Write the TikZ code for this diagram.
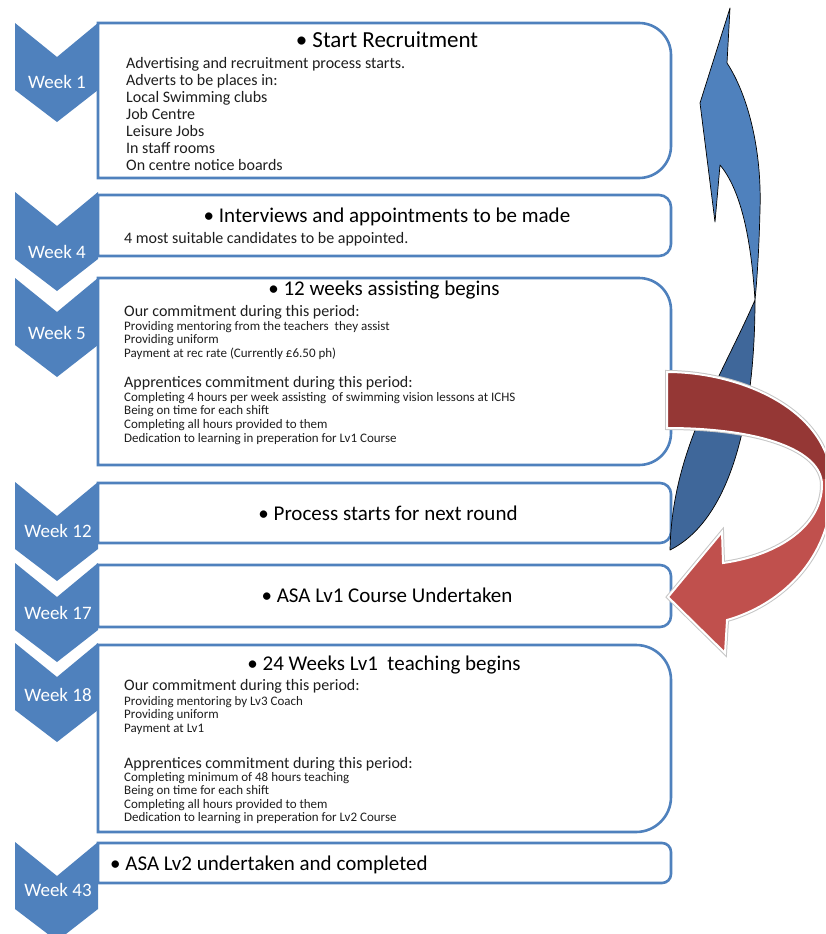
\documentclass[tikz,border=0pt]{standalone}
\usepackage{fontspec}
\setmainfont{Carlito}
\definecolor{accblue}{HTML}{4F81BD}
\definecolor{darkblue}{HTML}{3F679A}
\definecolor{darkred}{HTML}{953735}
\definecolor{lightred}{HTML}{C0504D}
\definecolor{bodytext}{HTML}{1E1E1E}
\tikzset{
  chev/.style={fill=accblue, draw=none},
  boxline/.style={draw=accblue, line width=2.6pt},
  weeklbl/.style={text=white, font=\fontsize{19}{19}\selectfont, inner sep=0pt, text height=13pt, text depth=4pt, yshift=-2pt},
  ttl/.style={font=\fontsize{21}{21}\selectfont, inner sep=0pt, text=black, text height=14.7pt, text depth=4.2pt, yshift=-2pt},
  bigttl/.style={ttl, font=\fontsize{23}{23}\selectfont, text height=16.1pt, text depth=4.6pt},
  bodyln/.style={font=\fontsize{16}{16}\selectfont, inner sep=0pt, anchor=west, text=bodytext, text height=11.2pt, text depth=3.2pt, yshift=-2pt},
  smallln/.style={font=\fontsize{13}{13}\selectfont, inner sep=0pt, anchor=west, text=bodytext, text height=9.1pt, text depth=2.6pt, yshift=-2pt},
}
\newcommand\weekchev[1]{\fill[chev] (15,#1) -- (57,#1+34) -- (98,#1) -- (98,#1+67) -- (57,#1+99) -- (15,#1+67) -- cycle;}
\newcommand\weekbox[3]{\draw[boxline] (98,#1) -- ({671-#3},#1) arc[start angle=90,end angle=0,radius=#3pt] -- (671,{#2-#3}) arc[start angle=0,end angle=-90,radius=#3pt] -- (98,#2) -- cycle;}
\begin{document}
\begin{tikzpicture}[x=1pt,y=-1pt]
\useasboundingbox (0,0) rectangle (825,934);
\clip (0,0) rectangle (825,934);
\fill[white] (0,0) rectangle (825,934);

% chevrons
\weekchev{23}
\weekchev{192}
\weekchev{278}
\weekchev{482}
\weekchev{563}
\weekchev{643}
\weekchev{842}

% boxes
\weekbox{23}{178}{32}
\weekbox{195}{256}{12}
\weekbox{278}{465}{32}
\weekbox{483}{543}{11}
\weekbox{565}{627}{11}
\weekbox{645}{832}{35}
\weekbox{843}{883}{9}

% week labels
\node[weeklbl] (w1) at (57,82) {Week 1};
\node[weeklbl] (w4) at (57,252) {Week 4};
\node[weeklbl] (w5) at (57,333) {Week 5};
\node[weeklbl] (w12) at (58,531) {Week 12};
\node[weeklbl] (w17) at (58,613) {Week 17};
\node[weeklbl] (w18) at (58,695) {Week 18};
\node[weeklbl] (w43) at (58,890) {Week 43};

% titles
\node[bigttl] (t1) at (387,40) {• Start Recruitment};
\node[ttl] (t2) at (387,215) {• Interviews and appointments to be made};
\node[ttl] (t3) at (384,288) {• 12 weeks assisting begins};
\node[ttl] (t4) at (388,513) {• Process starts for next round};
\node[ttl] (t5) at (387,595) {• ASA Lv1 Course Undertaken};
\node[ttl] (t6) at (384,663) {• 24 Weeks Lv1~ teaching begins};
\node[ttl, anchor=west] (t7) at (110,863) {• ASA Lv2 undertaken and completed};

% box 1 body
\foreach \t [count=\i from 0] in {Advertising and recruitment process starts., Adverts to be places in:, Local Swimming clubs, Job Centre, Leisure Jobs, In staff rooms, On centre notice boards}
  \node[bodyln] (ba\i) at (126,62+17*\i) {\t};

% box 2 body
\node[bodyln] (bb0) at (124,237) {4 most suitable candidates to be appointed.};

% box 3 body
\node[bodyln] (bc0) at (124,310) {Our commitment during this period:};
\foreach \t [count=\i from 0] in {Providing mentoring from the teachers~ they assist, Providing uniform, Payment at rec rate (Currently £6.50 ph)}
  \node[smallln] (bc1\i) at (124,325+13.5*\i) {\t};
\node[bodyln] (bc2) at (124,381) {Apprentices commitment during this period:};
\foreach \t [count=\i from 0] in {Completing 4 hours per week assisting~ of swimming vision lessons at ICHS, Being on time for each shift, Completing all hours provided to them, Dedication to learning in preperation for Lv1 Course}
  \node[smallln] (bc3\i) at (124,396+13.7*\i) {\t};

% box 6 body
\node[bodyln] (bf0) at (124,684) {Our commitment during this period:};
\foreach \t [count=\i from 0] in {Providing mentoring by Lv3 Coach, Providing uniform, Payment at Lv1}
  \node[smallln] (bf1\i) at (124,700+13.5*\i) {\t};
\node[bodyln] (bf2) at (124,762) {Apprentices commitment during this period:};
\foreach \t [count=\i from 0] in {Completing minimum of 48 hours teaching, Being on time for each shift, Completing all hours provided to them, Dedication to learning in preperation for Lv2 Course}
  \node[smallln] (bf3\i) at (124,776+13.4*\i) {\t};

% blue twisted arrow
\filldraw[fill=accblue, draw=black, line width=0.7pt, line join=round]
  (730,8) -- (727,63) .. controls (748,95) and (762,150) .. (760,210)
  .. controls (759,250) and (757,280) .. (755,300)
  .. controls (752,255) and (745,195) .. (720,165)
  -- (715,222) -- (700,103) -- cycle;
\filldraw[fill=darkblue, draw=black, line width=0.7pt, line join=round]
  (755,300) .. controls (755,420) and (730,520) .. (670,550)
  .. controls (672,450) and (720,380) .. (755,300) -- cycle;

% red curved arrow
\def\redpath{(667,372) .. controls (740,372) and (835,410) .. (832,490)
  .. controls (830,560) and (780,605) .. (727,620) -- (725,653) -- (668,597)
  -- (722,532) -- (723,563) .. controls (780,555) and (822,525) .. (822,485)
  .. controls (822,450) and (760,428) .. (667,428) -- cycle}
\draw[gray!45, line width=4pt, line join=miter] \redpath;
\fill[lightred] \redpath;
\begin{scope}
  \clip (600,300) rectangle (840,478);
  \fill[darkred] \redpath;
\end{scope}
\draw[white, line width=2pt, line join=miter] \redpath;
\end{tikzpicture}
\end{document}
